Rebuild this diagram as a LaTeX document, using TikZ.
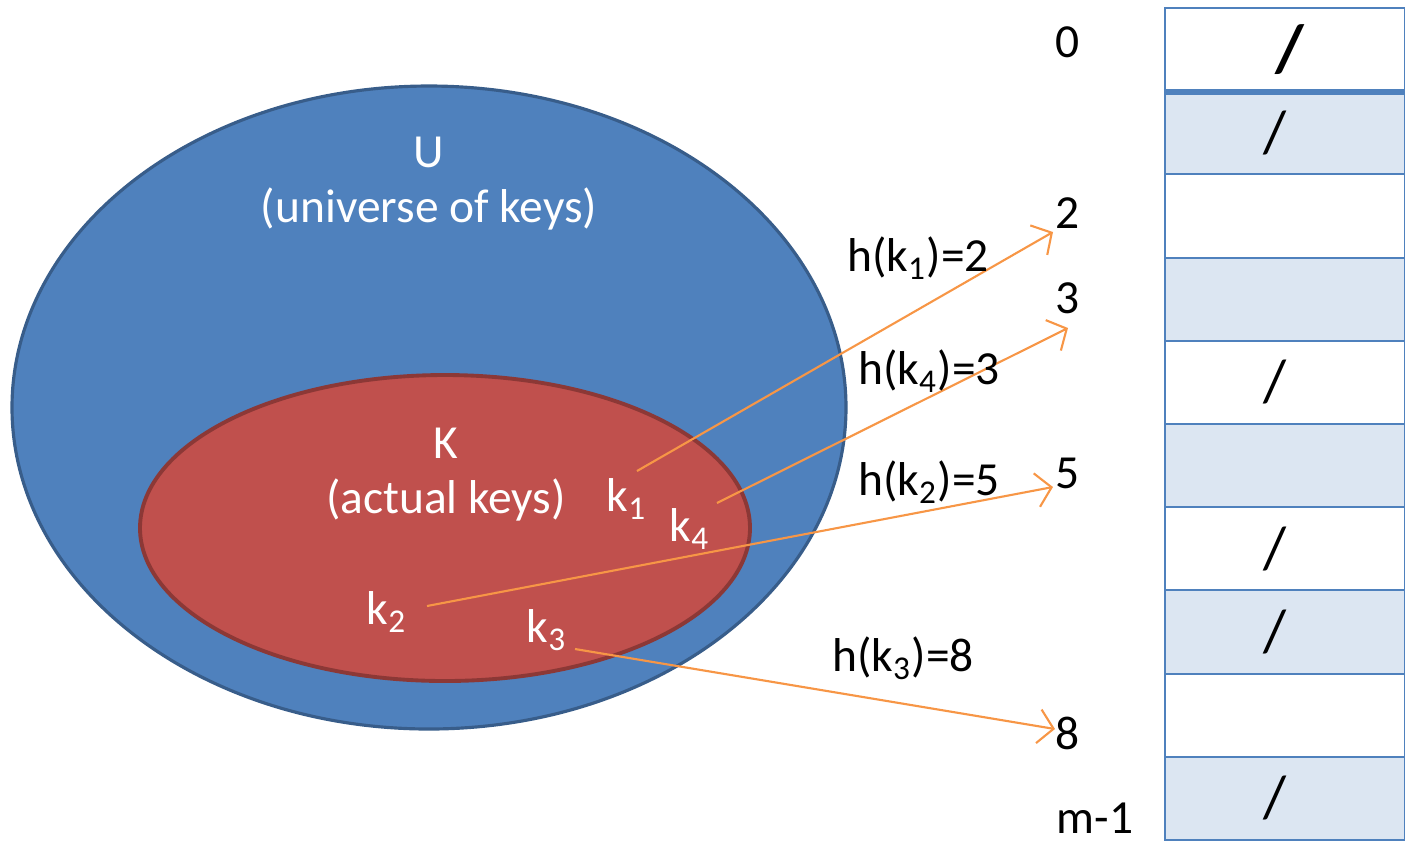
\documentclass[tikz,border=0pt]{standalone}
\usepackage{fontspec}
\setmainfont{Carlito}
\usetikzlibrary{arrows.meta,positioning}
\definecolor{ublue}{HTML}{4F81BD}
\definecolor{udark}{HTML}{385D8A}
\definecolor{kred}{HTML}{C0504D}
\definecolor{kdark}{HTML}{8C3836}
\definecolor{cellblue}{HTML}{DCE6F2}
\definecolor{harrow}{HTML}{F79646}

\begin{document}
\begin{tikzpicture}[x=0.01cm,y=-0.01cm,
    every node/.style={font=\fontsize{13.5}{15.6}\selectfont},
    cell/.style={draw=ublue, line width=0.6pt, minimum width=2.4cm, minimum height=0.832cm, inner sep=0pt},
    slash/.style={font=\fontsize{17}{20}\selectfont},
    hasharrow/.style={harrow, line width=0.6pt, -{Straight Barb[length=1.5mm,width=3.4mm]}}]
        \useasboundingbox (0,0) rectangle (1405,841);

        % Universe
        \draw[fill=ublue, draw=udark, line width=0.9pt] (429,407.5) ellipse [x radius=417, y radius=321.5];
        \node[white, align=center] (U) at (429,184) {U\\(universe of keys)};

        % Actual keys
        \draw[fill=kred, draw=kdark, line width=1.1pt] (445,528) ellipse [x radius=305, y radius=153];
        \node[white, align=center] (K) at (446,475) {K\\(actual keys)};

        % Keys
        \node[white] (k1) at (627,499) {k\textsubscript{1}};
        \node[white] (k4) at (690,529) {k\textsubscript{4}};
        \node[white] (k2) at (387,612) {k\textsubscript{2}};
        \node[white] (k3) at (547,630) {k\textsubscript{3}};

        % Table
        \foreach \i/\c in {0/white,1/cellblue,2/white,3/cellblue,4/white,5/cellblue,6/white,7/cellblue,8/white,9/cellblue}
            \node[cell, fill=\c] (r\i) at (1285,{49.6+83.2*\i}) {};
        \draw[ublue, line width=1.6pt] (r0.south west) -- (r0.south east);

        \node[slash, font=\fontsize{19}{22}\selectfont] at ([xshift=0.05cm]r0) {\textbf{/}};
        \foreach \i in {1,4,6,7,9}
            \node[slash] at ([xshift=-0.1cm]r\i) {/};

        % Slot numbers
        \node (n0) at (1068,42) {0};
        \node (n2) at (1068,213) {2};
        \node (n3) at (1068,298) {3};
        \node (n5) at (1068,473) {5};
        \node (n8) at (1068,733) {8};
        \node (nm) at (1095,818) {m-1};

        % Hash arrows
        \coordinate (s1) at (637,471);
        \coordinate (s4) at (717,503);
        \coordinate (s2) at (427,606);
        \coordinate (s3) at (575,649);
        \coordinate (t2) at (1053,232);
        \coordinate (t3) at (1068,328);
        \coordinate (t5) at (1053,487);
        \coordinate (t8) at (1055,729);

        \draw[hasharrow] (s1) -- (t2);
        \draw[hasharrow] (s4) -- (t3);
        \draw[hasharrow] (s2) -- (t5);
        \draw[hasharrow] (s3) -- (t8);

        % Labels
        \node (h1) at (918,258) {h(k\textsubscript{1})=2};
        \node (h4) at (929,371) {h(k\textsubscript{4})=3};
        \node (h2) at (929,482) {h(k\textsubscript{2})=5};
        \node (h3) at (903,658) {h(k\textsubscript{3})=8};
    \end{tikzpicture}
\end{document}
